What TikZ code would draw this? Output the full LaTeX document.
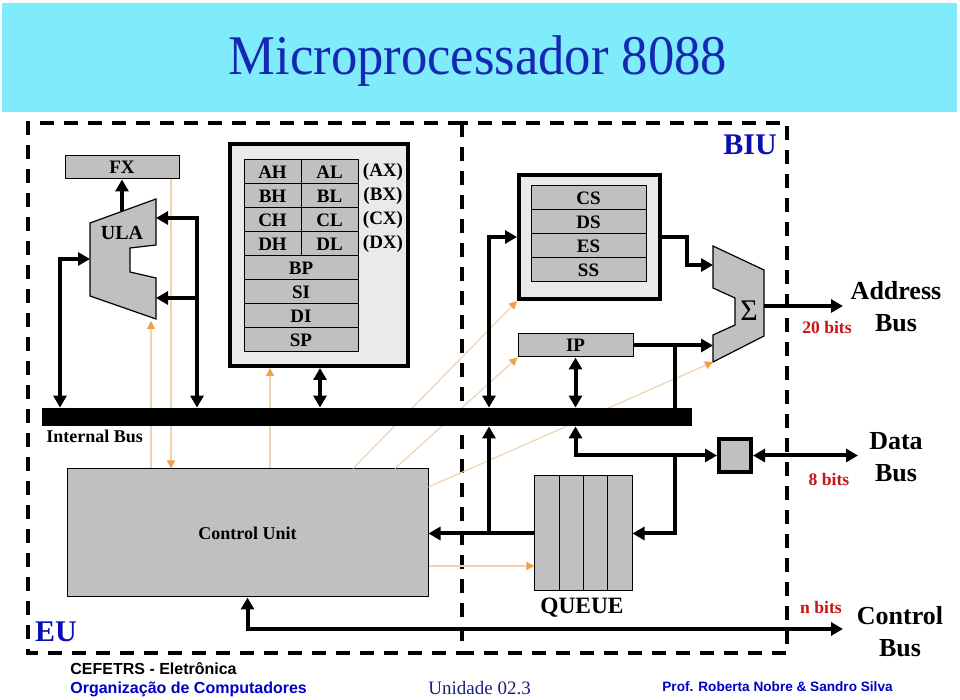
\documentclass[tikz,border=0pt]{standalone}
\usepackage{fontspec}
\setmainfont{Liberation Serif}
\newfontfamily\arialfont{Liberation Sans}
\usetikzlibrary{arrows.meta}
\definecolor{bandCyan}{RGB}{128,235,250}
\definecolor{titleBlue}{RGB}{20,40,180}
\definecolor{unitBlue}{RGB}{10,15,180}
\definecolor{footBlue}{RGB}{0,0,200}
\definecolor{navy}{RGB}{25,35,120}
\definecolor{bitsRed}{RGB}{200,20,20}
\definecolor{regGray}{RGB}{192,192,192}
\definecolor{frameGray}{RGB}{234,234,234}
\definecolor{ctlTan}{RGB}{240,212,175}
\definecolor{ctlOrange}{RGB}{242,160,70}
\tikzset{
  >={Triangle[length=6pt,width=6.5pt]},
  cell/.style={draw,line width=0.5pt,fill=regGray,inner sep=0pt,minimum height=12pt,font=\bfseries\fontsize{9.5}{10}\selectfont},
  frame/.style={draw,line width=2pt,fill=frameGray,inner sep=0pt},
  wire/.style={line width=2pt},
  ctl/.style={draw=ctlTan,line width=0.6pt,-{Triangle[length=4pt,width=4pt,color=ctlOrange]}},
  fence/.style={line width=2pt,dash pattern=on 7pt off 5pt},
  lbl/.style={font=\bfseries\fontsize{9.5}{10}\selectfont},
  buslbl/.style={align=center,font=\bfseries\fontsize{13}{16}\selectfont},
  bits/.style={text=bitsRed,font=\bfseries\fontsize{8.8}{10}\selectfont},
  foot/.style={anchor=west,inner sep=0pt,font=\arialfont\bfseries\fontsize{8}{9}\selectfont}
}
\begin{document}
\begin{tikzpicture}[x=0.5pt,y=-0.5pt]
  \useasboundingbox[fill=white] (0,0) rectangle (960,700);
  \fill[bandCyan] (2,3) rectangle (957,112);
  \node[text=titleBlue,font=\fontsize{28}{30}\selectfont] (title) at (478,61) {\scalebox{0.94}[1]{Microprocessador 8088}};
  \draw[fence] (462,123) -| (28,653) -- (462,653);
  \draw[fence] (462,123) rectangle (787,653);

  \node[cell,minimum width=57pt,minimum height=11.5pt] (fx) at (122,167.5) {FX};
  \filldraw[fill=regGray,line width=0.6pt] (90,223) -- (156,199) -- (156,245) -- (130,248) -- (130,272) -- (156,278) -- (156,319) -- (90,296) -- cycle;
  \node[font=\bfseries\fontsize{10}{12}\selectfont] (ula) at (122,233) {ULA};
  \coordinate (ulaT) at (122,211);
  \coordinate (ulaL) at (90,259);
  \coordinate (ulaR1) at (156,218);
  \coordinate (ulaR2) at (156,298);
  \coordinate (ulaB) at (151,321);

  \node[frame,minimum width=89pt,minimum height=111pt] (regs) at (319,255) {};
  \node[cell,minimum width=28.5pt] (ah) at (272.5,172) {AH};
  \node[cell,minimum width=28.5pt] (al) at (329.5,172) {AL};
  \node[cell,minimum width=28.5pt] (bh) at (272.5,196) {BH};
  \node[cell,minimum width=28.5pt] (bl) at (329.5,196) {BL};
  \node[cell,minimum width=28.5pt] (ch) at (272.5,220) {CH};
  \node[cell,minimum width=28.5pt] (cl) at (329.5,220) {CL};
  \node[cell,minimum width=28.5pt] (dh) at (272.5,244) {DH};
  \node[cell,minimum width=28.5pt] (dl) at (329.5,244) {DL};
  \node[cell,minimum width=57pt] (bp) at (301,268) {BP};
  \node[cell,minimum width=57pt] (si) at (301,292) {SI};
  \node[cell,minimum width=57pt] (di) at (301,316) {DI};
  \node[cell,minimum width=57pt] (sp) at (301,340) {SP};
  \node[lbl] (ax) at (383,172) {(AX)};
  \node[lbl] (bx) at (383,196) {(BX)};
  \node[lbl] (cx) at (383,220) {(CX)};
  \node[lbl] (dx) at (383,244) {(DX)};

  \node[frame,minimum width=70.5pt,minimum height=62pt] (seg) at (589.5,237) {};
  \node[cell,minimum width=57.5pt] (cs) at (588.5,198) {CS};
  \node[cell,minimum width=57.5pt] (ds) at (588.5,222) {DS};
  \node[cell,minimum width=57.5pt] (es) at (588.5,246) {ES};
  \node[cell,minimum width=57.5pt] (ss) at (588.5,270) {SS};
  \node[cell,minimum width=57.5pt,minimum height=11.5pt] (ip) at (575.5,345.5) {IP};

  \filldraw[fill=regGray,line width=0.6pt] (713,246) -- (764,270) -- (764,336) -- (713,362) -- (713,335) -- (735,325) -- (735,298) -- (713,288) -- cycle;
  \node[font=\fontsize{15}{16}\selectfont] (sum) at (749,311) {Σ};
  \coordinate (sigA) at (713,265);
  \coordinate (sigB) at (713,345.5);
  \coordinate (sigC) at (713,362);
  \coordinate (sigO) at (764,306);

  \node[cell,minimum width=180.5pt,minimum height=64pt,font=\bfseries\fontsize{9}{10}\selectfont] (cu) at (247.5,533) {Control Unit};
  \node[cell,minimum width=12.125pt,minimum height=57.5pt] (q1) at (547.1,533.5) {};
  \node[cell,minimum width=12.125pt,minimum height=57.5pt] (q2) at (571.4,533.5) {};
  \node[cell,minimum width=12.125pt,minimum height=57.5pt] (q3) at (595.6,533.5) {};
  \node[cell,minimum width=12.125pt,minimum height=57.5pt] (q4) at (619.9,533.5) {};
  \node[draw,line width=2pt,fill=regGray,minimum width=16pt,minimum height=16.5pt,inner sep=0pt] (dbuf) at (735,455.5) {};
  \coordinate (addrEnd) at (843,306);
  \coordinate (dataEnd) at (858,455.5);
  \coordinate (ctrlEnd) at (843,629);

  \draw[ctl] (cu.north -| 151,0) -- (ulaB);
  \draw[ctl] (fx.south -| 171,0) -- (cu.north -| 171,0);
  \draw[ctl] (cu.north -| 270,0) -- (regs.south -| 270,0);
  \draw[ctl] (cu.north -| 353,0) -- (seg.south west);
  \draw[ctl] (cu.north -| 395,0) -- (ip.south west);
  \draw[ctl] (cu.east |- 0,487) -- (sigC);
  \draw[ctl] (cu.east |- 0,566) -- (q1.west |- 0,566);

  \node[fill=black,minimum width=325pt,minimum height=9pt,inner sep=0pt] (bus) at (367,417) {};

  \draw[wire,->] (ulaT) -- (fx.south);
  \draw[wire,<->] (ulaL) -| (bus.north -| 60,0);
  \draw[wire,<->] (ulaR1) -| (bus.north -| 197,0);
  \draw[wire,->] (ulaR2 -| 197,0) -- (ulaR2);
  \draw[wire,<->] (regs.south -| 320,0) -- (bus.north -| 320,0);
  \draw[wire,<->] (seg.west) -| (bus.north -| 489,0);
  \draw[wire,<->] (ip.south) -- (ip.south |- bus.north);
  \draw[wire,->] (seg.east) -- ++(25,0) |- (sigA);
  \draw[wire,->] (ip.east) -- (sigB);
  \draw[wire] (bus.north -| 675,0) -- (ip.east -| 675,0);
  \draw[wire,->] (sigO) -- (addrEnd);
  \draw[wire,->] (q1.west) -- (q1.west -| cu.east);
  \draw[wire,->] (q1.west -| 489,0) -- (bus.south -| 489,0);
  \draw[wire,<->] (bus.south -| ip.south) |- (dbuf.west);
  \draw[wire,->] (dbuf.west -| 675,0) |- (q4.east);
  \draw[wire,<->] (dbuf.east) -- (dataEnd);
  \draw[wire,<->] (cu.south) |- (ctrlEnd);

  \node[anchor=west,inner sep=0pt,font=\bfseries\fontsize{9}{10}\selectfont] (ibus) at (46,436) {Internal Bus};
  \node[font=\bfseries\fontsize{11.7}{12}\selectfont] (qname) at (582,608) {QUEUE};
  \node[text=unitBlue,font=\bfseries\fontsize{15}{16}\selectfont] (eu) at (56,632) {EU};
  \node[text=unitBlue,font=\bfseries\fontsize{15}{16}\selectfont] (biu) at (750,145) {BIU};
  \node[buslbl] (abus) at (896,307) {Address\\Bus};
  \node[buslbl] (dbus) at (896,457) {Data\\Bus};
  \node[buslbl] (cbus) at (900,632) {Control\\Bus};
  \node[bits] (abits) at (827,327) {20 bits};
  \node[bits] (dbits) at (829,479) {8 bits};
  \node[bits] (cbits) at (821,607) {n bits};

  \node[foot] (inst) at (70,669) {CEFETRS - Eletrônica};
  \node[foot,text=footBlue] (course) at (70,689) {Organização de Computadores};
  \node[anchor=west,inner sep=0pt,text=navy,font=\fontsize{9.5}{10}\selectfont] (unit) at (428,688) {Unidade 02.3};
  \node[foot,text=footBlue,font=\arialfont\bfseries\fontsize{6.8}{8}\selectfont] (profs) at (662,687) {Prof. Roberta Nobre \& Sandro Silva};
\end{tikzpicture}
\end{document}
